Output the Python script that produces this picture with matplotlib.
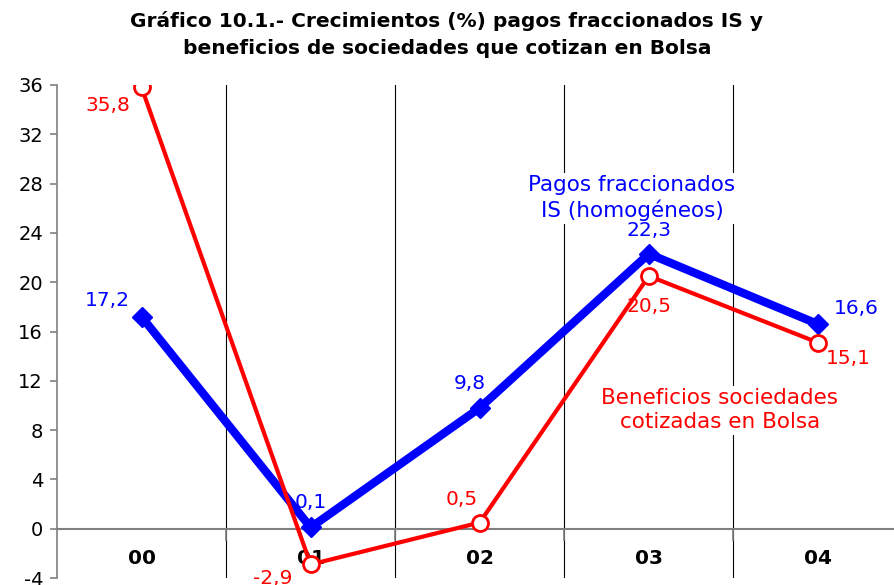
import matplotlib.pyplot as plt

years = ['00', '01', '02', '03', '04']
pagos = [17.2, 0.1, 9.8, 22.3, 16.6]
beneficios = [35.8, -2.9, 0.5, 20.5, 15.1]
yticks = list(range(-4, 37, 4))

# label offsets in pixels (dx, dy) from each point
off_pagos = [(-34, 16), (0, 25), (-10, 24), (0, 23), (38, 16)]
off_benef = [(-34, -18), (-38, -14), (-18, 23), (0, -30), (30, -16)]

fig = plt.figure(figsize=(8.94, 5.85), dpi=100)
ax = fig.add_axes([57 / 894, 7 / 585, 837 / 894, 493 / 585])
x = list(range(len(years)))

ax.set_xlim(-0.5, 4.45)
ax.set_ylim(-4, 36)
ax.set_yticks(yticks)
ax.set_yticklabels([str(v) for v in yticks], fontsize=14)
ax.tick_params(axis='y', length=5, color='#808080', width=1.2, pad=5)
ax.set_xticks([])

for s in ['top', 'right', 'bottom']:
    ax.spines[s].set_visible(False)
ax.spines['left'].set_color('#808080')
ax.spines['left'].set_linewidth(1.2)

# vertical separators between categories
for b in [0.5, 1.5, 2.5, 3.5]:
    ax.axvline(b, color='black', lw=0.8, zorder=1)
    ax.plot([b, b], [0, -0.9], color='#808080', lw=1.2, zorder=1)
ax.axhline(0, color='#808080', lw=1.5, zorder=1)

for i, y in enumerate(years):
    ax.text(i, -2.45, y, ha='center', va='center', fontsize=14.5, fontweight='bold')

ax.plot(x, pagos, color='blue', lw=6, marker='D', ms=10, mfc='blue', mec='blue',
        zorder=3, solid_joinstyle='miter')
ax.plot(x, beneficios, color='red', lw=3, marker='o', ms=11.5, mfc='white',
        mec='red', mew=2, zorder=4)

for i, v in enumerate(pagos):
    ax.annotate(f'{v:.1f}'.replace('.', ','), (i, v), xytext=off_pagos[i],
                textcoords='offset pixels', ha='center', va='center',
                color='blue', fontsize=14.5, zorder=5)
for i, v in enumerate(beneficios):
    ax.annotate(f'{v:.1f}'.replace('.', ','), (i, v), xytext=off_benef[i],
                textcoords='offset pixels', ha='center', va='center',
                color='red', fontsize=14.5, zorder=5, annotation_clip=False)

ax.text(2.9, 26.8, 'Pagos fraccionados\nIS (homogéneos)', ha='center', va='center',
        color='blue', fontsize=15.5, linespacing=1.25,
        bbox=dict(facecolor='white', edgecolor='none', pad=2), zorder=2)
ax.text(3.42, 9.6, 'Beneficios sociedades\ncotizadas en Bolsa', ha='center', va='center',
        color='red', fontsize=15.5, linespacing=1.25,
        bbox=dict(facecolor='white', edgecolor='none', pad=2), zorder=2)

fig.text(0.5, 0.982, 'Gráfico 10.1.- Crecimientos (%) pagos fraccionados IS y\n'
         'beneficios de sociedades que cotizan en Bolsa',
         ha='center', va='top', fontsize=14.5, fontweight='bold', linespacing=1.55)

fig.savefig('out.png', dpi=100)
